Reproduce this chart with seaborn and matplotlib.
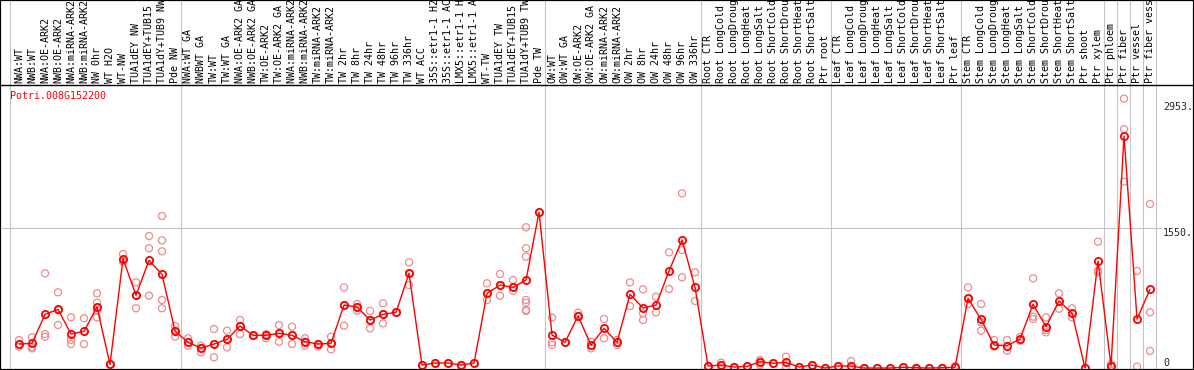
import numpy as np
import pandas as pd
import matplotlib
matplotlib.use("Agg")
import matplotlib.pyplot as plt
import seaborn as sns
from matplotlib.transforms import blended_transform_factory
from matplotlib.lines import Line2D
from matplotlib.patches import Rectangle

gene = "Potri.008G152200"

labels = [
    "NWA:WT", "NWB:WT", "NWA:OE-ARK2", "NWB:OE-ARK2", "NWA:miRNA-ARK2", "NWB:miRNA-ARK2",
    "NW 0hr", "WT H2O", "WT-NW", "TUA1dEY NW", "TUA1dEY+TUB15 NW", "TUA1dY+TUB9 NW", "Pde NW",
    "NWA:WT GA", "NWBWT GA", "TW:WT", "TW:WT GA", "NWA:OE-ARK2 GA", "NWB:OE-ARK2 GA",
    "TW:OE-ARK2", "TW:OE-ARK2 GA", "NWA:miRNA-ARK2 GA", "NWB:miRNA-ARK2 GA", "TW:miRNA-ARK2",
    "TW:miRNA-ARK2", "TW 2hr", "TW 8hr", "TW 24hr", "TW 48hr", "TW 96hr", "TW 336hr", "WT ACC",
    "35S::etr1-1 H2O", "35S::etr1-1 ACC", "LMX5::etr1-1 H2O", "LMX5::etr1-1 ACC", "WT-TW",
    "TUA1dEY TW", "TUA1dEY+TUB15 TW", "TUA1dY+TUB9 TW", "Pde TW",
    "OW:WT", "OW:WT GA", "OW:OE-ARK2", "OW:OE-ARK2 GA", "OW:miRNA-ARK2", "OW:miRNA-ARK2",
    "OW 2hr", "OW 8hr", "OW 24hr", "OW 48hr", "OW 96hr", "OW 336hr",
    "Root CTR", "Root LongCold", "Root LongDrought", "Root LongHeat", "Root LongSalt",
    "Root ShortCold", "Root ShortDrought", "Root ShortHeat", "Root ShortSalt", "Ptr root",
    "Leaf CTR", "Leaf LongCold", "Leaf LongDrought", "Leaf LongHeat", "Leaf LongSalt",
    "Leaf ShortCold", "Leaf ShortDrought", "Leaf ShortHeat", "Leaf ShortSalt", "Ptr leaf",
    "Stem CTR", "Stem LongCold", "Stem LongDrought", "Stem LongHeat", "Stem LongSalt",
    "Stem ShortCold", "Stem ShortDrought", "Stem ShortHeat", "Stem ShortSalt", "Ptr shoot",
    "Ptr xylem", "Ptr phloem", "Ptr fiber", "Ptr vessel", "Ptr fiber vessel",
]

group_sizes = [13, 28, 12, 10, 10, 11, 1, 1, 1, 1]

means = [
    266, 274, 596, 651, 377, 407, 677, 40, 1213, 807, 1195, 1040, 411,
    285, 222, 266, 318, 466, 363, 363, 385, 363, 292, 266, 274, 699, 677, 533, 596, 618,
    1051, 33, 55, 55, 33, 55, 829, 921, 895, 977, 1728,
    366, 285, 577, 255, 440, 285, 818, 666, 699, 1077, 1421, 895,
    22, 33, 11, 18, 70, 52, 63, 11, 33, 0,
    22, 22, 0, 0, 0, 8, 3, 0, 3, 8,
    773, 540, 255, 248, 322, 707, 459, 744, 607, 0, 1188,
    22, 2575, 544, 873,
]

reps = [
    [311, 260, 237], [341, 237, 218], [1051, 377, 347], [840, 477, 640], [563, 311, 266],
    [552, 266, 403], [829, 725, 640, 563], [40, 40], [1265, 1199, 1180], [951, 807, 663],
    [1465, 1329, 803], [1687, 1417, 1295, 755, 663], [466, 347, 411],
    [330, 248, 285], [248, 174, 222], [433, 119, 266], [414, 230, 318], [533, 377, 466],
    [359, 363], [377, 330, 363], [477, 292, 385], [459, 266, 363], [330, 248, 292],
    [237, 266], [347, 207, 274], [895, 470, 699], [710, 636, 677], [633, 440, 533],
    [718, 496, 596], [618], [1173, 921, 1051], [33], [55], [55], [33], [55],
    [940, 755, 829], [1043, 803, 921], [977, 858, 895],
    [1562, 1329, 1236, 755, 725, 644, 633], [1728],
    [559, 285, 255], [285], [614, 577], [292, 218], [544, 330], [311, 255], [951, 688],
    [873, 607, 533], [791, 618], [1284, 877], [1939, 1310, 1007], [1062, 744],
    [22], [59, 33], [11], [18], [89, 33, 70], [52], [126, 15], [11], [33], [0],
    [22], [78, 22], [0], [0], [0], [8], [3], [0], [3], [22, 8],
    [895, 710, 773], [710, 507, 414], [311, 237], [311, 192], [344, 303],
    [995, 570, 544], [562, 422, 396], [829, 658], [662, 562], [0], [1402, 1080, 1062],
    [44, 22], [2990, 2650, 2068], [1077, 15], [1820, 618, 189],
]

grid_value = 1550
max_label = 2953

# ---------------------------------------------------------------
sns.set_style("white")
plt.rcParams["font.family"] = ["DejaVu Sans Mono"]

W, H = 1194, 370
fig = plt.figure(figsize=(W / 100, H / 100), dpi=100)
px_l, px_r, px_t, px_b = 1, 1156, 85, 369
ax = fig.add_axes([px_l / W, (H - px_b) / H, (px_r - px_l) / W, (px_b - px_t) / H])

n = len(labels)
idx = np.arange(n)
df_mean = pd.DataFrame({"x": idx, "v": means})
df_rep = pd.DataFrame(
    [(i, v) for i, rr in enumerate(reps) for v in rr], columns=["x", "v"]
)

ax.set_xlim(-1.385, 87.46)
ax.set_ylim(-11, 3141)

# grid lines
header_frac = 1 + (px_t) / (px_b - px_t)
cum = np.cumsum([0] + group_sizes)
edges = [-0.7] + [c - 0.55 for c in cum[1:]]
for e in edges:
    ax.axvline(e, ymin=0, ymax=header_frac, color="#c4c4c4", lw=0.8,
               clip_on=False, zorder=0)
ax.axhline(grid_value, xmin=0, xmax=1.004, color="#c4c4c4", lw=0.8,
           clip_on=False, zorder=0)

sns.scatterplot(data=df_rep, x="x", y="v", ax=ax, s=26, marker="o",
                facecolor="none", edgecolor="#ec8c8c", linewidth=0.9,
                legend=False, zorder=2)
sns.lineplot(data=df_mean, x="x", y="v", ax=ax, color="red", lw=1.0,
             marker="o", markersize=5.2, markerfacecolor="none",
             markeredgecolor="red", markeredgewidth=1.3, zorder=3,
             legend=False)

ax.set_xlabel("")
ax.set_ylabel("")
ax.set_xticks([])
ax.set_yticks([])
for s in ax.spines.values():
    s.set_visible(False)

# header labels
tr = blended_transform_factory(ax.transData, ax.transAxes)
for i, lab in enumerate(labels):
    ax.text(i, 1 + 2 / (px_b - px_t), lab, rotation=90, ha="center", va="bottom",
            fontsize=7.2, color="black", transform=tr, clip_on=False)

# right value labels
tr2 = blended_transform_factory(fig.transFigure, ax.transData)
xr = 1163 / W
ax.text(xr, max_label, f"{max_label}.", transform=tr2, va="top", ha="left", fontsize=7.2)
ax.text(xr, grid_value, f"{grid_value}.", transform=tr2, va="top", ha="left", fontsize=7.2)
ax.text(xr, 0, "0", transform=tr2, va="bottom", ha="left", fontsize=7.2)

# gene title
fig.text(10 / W, 1 - 96 / H, gene, color="red", fontsize=7.2, ha="left", va="center")

# frame lines
fig.add_artist(Line2D([0, 1], [(H - px_t) / H] * 2, transform=fig.transFigure,
                      color="black", lw=1.0))
fig.add_artist(Rectangle((0, 0), 1, 1, transform=fig.transFigure, fill=False,
                         ec="black", lw=1.6))

fig.savefig("out.png", dpi=100)
